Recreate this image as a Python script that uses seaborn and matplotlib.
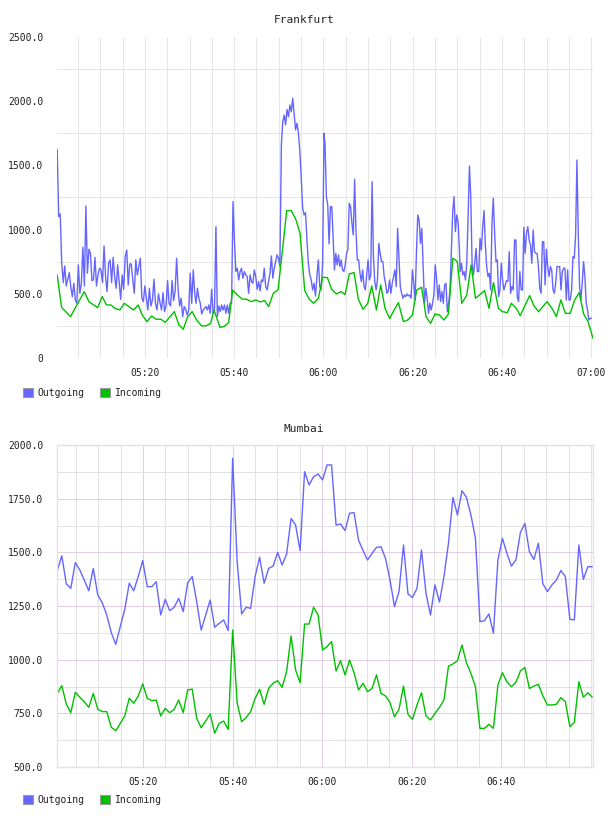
import numpy as np
import pandas as pd
import matplotlib
matplotlib.use("Agg")
import matplotlib.pyplot as plt
import seaborn as sns
from matplotlib.patches import Patch
from matplotlib.ticker import FuncFormatter, FixedLocator, MultipleLocator

# ---------------- data (minutes after 05:00) ----------------
series_names = ["Outgoing", "Incoming"]
colors = {"Outgoing": "#6666ff", "Incoming": "#00c000"}

# Frankfurt outgoing, four consecutive stretches, each sampled evenly
fra_out_seg1_span = (0.34, 30.83)
fra_out_seg1 = [1625, 1101, 1122, 738, 587, 717, 561, 613, 665, 556, 478, 582, 452, 426, 725, 504, 582, 862,
                561, 1184, 660, 847, 815, 603, 608, 784, 561, 647, 699, 686, 587, 873, 634, 517, 738, 764, 587,
                784, 634, 543, 725, 587, 457, 647, 535, 790, 841, 569, 732, 732, 608, 504, 764, 647, 712, 777,
                465, 439, 561, 465, 374, 543, 405, 452, 613, 426, 374, 499, 431, 374, 509, 361, 405, 603, 426,
                405, 603, 447, 517, 777, 530, 405, 465, 322, 400, 379, 335, 374, 660, 426, 686]
fra_out_seg2_span = (31.13, 60.13)
fra_out_seg2 = [517, 426, 543, 465, 426, 343, 374, 387, 400, 374, 413, 348, 535, 348, 374, 1023, 322, 405, 361,
                413, 374, 413, 348, 413, 348, 426, 426, 1218, 919, 673, 699, 608, 673, 699, 621, 673, 647, 634,
                504, 647, 595, 582, 686, 634, 535, 595, 522, 608, 595, 699, 556, 530, 595, 660, 795, 621, 699,
                751, 803, 777, 712, 1659, 1840, 1892, 1815, 1936, 1879, 1970, 1918, 2022, 1900, 1776, 1828,
                1755, 1607, 1399, 1166, 1114, 1132, 919, 738, 647, 608, 530, 582, 483, 634, 764, 556, 530, 738,
                1750]
fra_out_seg3_span = (60.36, 90.47)
fra_out_seg3 = [1659, 1257, 1192, 888, 1179, 1179, 945, 686, 815, 725, 803, 712, 764, 686, 673, 725, 815, 847,
                1205, 1179, 1049, 958, 1392, 997, 764, 764, 660, 595, 686, 556, 530, 647, 764, 608, 647, 1373,
                790, 595, 530, 608, 893, 815, 751, 751, 634, 582, 504, 517, 608, 504, 582, 634, 686, 556, 1010,
                790, 556, 504, 465, 491, 478, 499, 483, 491, 465, 686, 582, 452, 815, 1114, 1075, 893, 1010, 712,
                426, 543, 465, 348, 426, 374, 426, 491, 725, 621, 452, 569, 439, 517, 426, 569, 582, 361, 426,
                530, 841, 1140, 1257, 984, 1114, 1062, 841]
fra_out_seg4_span = (90.63, 120.07)
fra_out_seg4 = [673, 738, 647, 673, 608, 738, 1101, 1495, 1257, 738, 647, 738, 854, 673, 673, 932, 841, 1023,
                1148, 880, 712, 634, 660, 530, 1049, 1244, 971, 751, 764, 478, 530, 738, 608, 530, 569, 603, 595,
                828, 504, 556, 530, 919, 919, 478, 439, 673, 530, 530, 1018, 815, 971, 1023, 919, 880, 738, 997,
                828, 815, 815, 712, 543, 504, 906, 906, 569, 847, 712, 634, 712, 686, 530, 504, 582, 712, 712,
                712, 530, 673, 699, 699, 452, 686, 452, 452, 530, 790, 777, 958, 1542, 971, 556, 452, 582, 751,
                634, 426, 374, 296, 309, 309]

fra_in_minutes = [0.34, 1.32, 3.33, 6.4, 7.44, 9.39, 10.43, 11.4, 12.38, 13.27, 14.4, 15.37, 16.41, 17.46, 18.5,
                  19.4, 20.45, 21.5, 22.47, 23.59, 24.56, 26.58, 27.63, 28.6, 29.57, 30.6,
                  31.58, 32.7, 33.68, 34.72, 35.47, 36.82, 37.72, 38.76, 39.66, 40.7, 41.75, 42.8, 43.84, 44.81,
                  45.86, 46.83, 47.72, 48.77, 49.82, 50.87, 51.77, 52.81, 53.86, 54.76, 55.8, 56.85, 57.82,
                  58.87, 59.84,
                  60.88, 61.85, 62.9, 63.94, 64.84, 65.8, 66.86, 67.83, 68.88, 69.92, 70.82, 71.87, 72.84, 73.8,
                  74.85, 75.83, 76.8, 77.92, 78.89, 79.94, 80.9, 82.0, 82.99, 84.0, 85.0, 86.0, 87.0, 88.0,
                  88.99, 90.0, 91.0,
                  92.12, 93.1, 94.07, 96.1, 97.1, 98.1, 99.2, 100.1, 101.2, 102.1, 103.2, 104.1, 106.2, 107.2,
                  108.2, 110.1, 111.2, 112.2, 113.2, 114.2, 115.3, 116.3, 117.3, 118.3, 119.3, 120.4]
fra_in = [647, 395, 322, 517, 439, 392, 478, 413, 413, 387, 374, 426, 400, 374, 413, 335, 283, 327, 302, 302,
          278, 361, 257, 224, 322, 361,
          296, 250, 250, 270, 374, 239, 245, 276, 530, 491, 460, 457, 439, 452, 437, 447, 400, 504, 530, 854,
          1148, 1148, 1075, 971, 525, 457, 426, 465, 629,
          626, 535, 499, 517, 494, 655, 665, 457, 379, 426, 561, 374, 569, 387, 307, 374, 431, 283, 296, 335,
          530, 551, 322, 270, 343, 335, 296, 343, 777, 751, 426,
          491, 725, 465, 525, 387, 587, 387, 361, 353, 426, 387, 330, 486, 405, 361, 439, 387, 322, 452, 348,
          348, 452, 509, 343, 283, 153]

# Mumbai: one sample per minute
mum_span = (0.87, 120.3)
mum_out = [1415, 1484, 1353, 1332, 1452, 1418, 1371, 1321, 1425, 1301, 1265, 1208, 1126, 1071, 1154, 1234,
           1356, 1321, 1387, 1461, 1340, 1340, 1363, 1208, 1281, 1228, 1244, 1286, 1224, 1359, 1387, 1270,
           1138, 1208, 1278, 1151, 1169, 1185, 1135, 1938, 1456, 1213, 1244, 1239, 1387, 1477, 1356, 1425,
           1436, 1500, 1441, 1492, 1658, 1627, 1508, 1876, 1814, 1852, 1865, 1837, 1907, 1907, 1627, 1632,
           1601, 1682, 1685, 1557, 1508, 1464, 1495, 1523, 1526, 1472, 1371, 1247, 1317, 1534, 1306, 1290,
           1332, 1511, 1309, 1208, 1348, 1268, 1387, 1542, 1756, 1674, 1787, 1756, 1674, 1565, 1177, 1182,
           1213, 1123, 1464, 1565, 1495, 1436, 1464, 1592, 1635, 1503, 1467, 1542, 1353, 1317, 1348, 1371,
           1415, 1387, 1188, 1185, 1534, 1374, 1433, 1433]
mum_in = [843, 879, 793, 753, 848, 825, 804, 778, 843, 769, 758, 758, 685, 669, 703, 738, 820, 797, 831, 887,
          820, 809, 812, 738, 773, 753, 769, 812, 753, 859, 863, 727, 683, 714, 747, 657, 703, 714, 675, 1138,
          797, 711, 731, 758, 820, 862, 792, 866, 890, 902, 871, 944, 1110, 952, 893, 1166, 1166, 1244, 1208,
          1045, 1061, 1084, 947, 995, 929, 998, 939, 859, 890, 851, 866, 929, 843, 831, 800, 734, 769, 877,
          745, 722, 789, 846, 738, 719, 750, 778, 812, 970, 980, 995, 1068, 986, 936, 874, 680, 680, 699, 680,
          882, 939, 897, 874, 894, 947, 964, 866, 877, 885, 831, 789, 789, 792, 823, 804, 688, 708, 897, 825,
          846, 825]

fra_yticks = [0, 500, 1000, 1500, 2000, 2500]
mum_yticks = [500, 750, 1000, 1250, 1500, 1750, 2000]
fra_xticks = [20, 40, 60, 80, 100, 120]
mum_xticks = [20, 40, 60, 80, 100]

# ---------------- build tables ----------------
fra_out_t = np.concatenate([
    np.linspace(*fra_out_seg1_span, len(fra_out_seg1)),
    np.linspace(*fra_out_seg2_span, len(fra_out_seg2)),
    np.linspace(*fra_out_seg3_span, len(fra_out_seg3)),
    np.linspace(*fra_out_seg4_span, len(fra_out_seg4)),
])
fra_out_v = fra_out_seg1 + fra_out_seg2 + fra_out_seg3 + fra_out_seg4
fra_df = pd.concat([
    pd.DataFrame({"minute": fra_out_t, "value": fra_out_v, "series": "Outgoing"}),
    pd.DataFrame({"minute": fra_in_minutes, "value": fra_in, "series": "Incoming"}),
], ignore_index=True)

mum_t = np.linspace(*mum_span, len(mum_out))
mum_df = pd.concat([
    pd.DataFrame({"minute": mum_t, "value": mum_out, "series": "Outgoing"}),
    pd.DataFrame({"minute": mum_t, "value": mum_in, "series": "Incoming"}),
], ignore_index=True)

# ---------------- style ----------------
sns.set_style("white")
plt.rcParams['font.family'] = ['DejaVu Sans Mono', 'DejaVu Sans']
plt.rcParams['font.size'] = 7
TXT = "#222222"

W, H = 608, 816
fig = plt.figure(figsize=(W / 100, H / 100), dpi=100)


def rect(l, t, r, b):
    return [l / W, 1 - b / H, (r - l) / W, (b - t) / H]


def hhmm(m, pos=None):
    m = int(round(m))
    return f"{5 + m // 60:02d}:{m % 60:02d}"


def yfmt(v, pos=None):
    return "0" if v == 0 else f"{v:.1f}"


ax1 = fig.add_axes(rect(57, 37, 593, 358))
ax2 = fig.add_axes(rect(57, 445, 593, 767))

for ax, df in ((ax1, fra_df), (ax2, mum_df)):
    sns.lineplot(data=df, x="minute", y="value", hue="series", hue_order=series_names,
                 palette=colors, estimator=None, sort=False, linewidth=1.0, legend=False, ax=ax)
    ax.set_xlabel("")
    ax.set_ylabel("")
    ax.set_axisbelow(True)
    ax.tick_params(length=0, labelsize=7, colors=TXT)
    ax.tick_params(axis="y", pad=10)
    ax.tick_params(axis="x", pad=7)
    ax.xaxis.set_major_formatter(FuncFormatter(hhmm))
    ax.yaxis.set_major_formatter(FuncFormatter(yfmt))

# Frankfurt
ax1.set_xlim(0.3, 120.4)
ax1.set_ylim(0, 2500)
ax1.xaxis.set_major_locator(FixedLocator(fra_xticks))
ax1.xaxis.set_minor_locator(MultipleLocator(5))
ax1.yaxis.set_major_locator(FixedLocator(fra_yticks))
ax1.yaxis.set_minor_locator(FixedLocator([250, 750, 1250, 1750, 2250]))
ax1.grid(False)
ax1.xaxis.grid(True, which="both", color="#e6e6e6", linewidth=0.75)
ax1.yaxis.grid(True, which="minor", color="#e6e6e6", linewidth=0.75)
for s in ax1.spines.values():
    s.set_visible(False)

# Mumbai
ax2.set_xlim(0.8, 120.45)
ax2.set_ylim(500, 2000)
ax2.xaxis.set_major_locator(FixedLocator(mum_xticks))
ax2.xaxis.set_minor_locator(MultipleLocator(5))
ax2.yaxis.set_major_locator(FixedLocator(mum_yticks))
ax2.yaxis.set_minor_locator(MultipleLocator(125))
ax2.grid(False)
ax2.grid(True, which="major", color="#e5cde5", linewidth=0.75)
ax2.grid(True, which="minor", color="#e2e2e2", linewidth=0.75)
for s in ax2.spines.values():
    s.set_visible(True)
    s.set_color("#eedcee")
    s.set_linewidth(1.0)

# titles
fig.text(0.5, 1 - 20 / H, "Frankfurt", ha="center", va="center", fontsize=8, color=TXT)
fig.text(0.5, 1 - 429 / H, "Mumbai", ha="center", va="center", fontsize=8, color=TXT)

# legends
handles = [Patch(facecolor=colors[n], edgecolor="#999999", linewidth=0.8, label=n) for n in series_names]
for ycen in (393, 800):
    fig.legend(handles=handles, loc="center left", bbox_to_anchor=(23 / W, 1 - ycen / H),
               ncol=2, frameon=False, fontsize=7, handlelength=1.0, handleheight=1.0,
               handletextpad=0.5, columnspacing=1.6, borderaxespad=0, borderpad=0,
               labelcolor=TXT)

fig.savefig("out.png", dpi=100)
